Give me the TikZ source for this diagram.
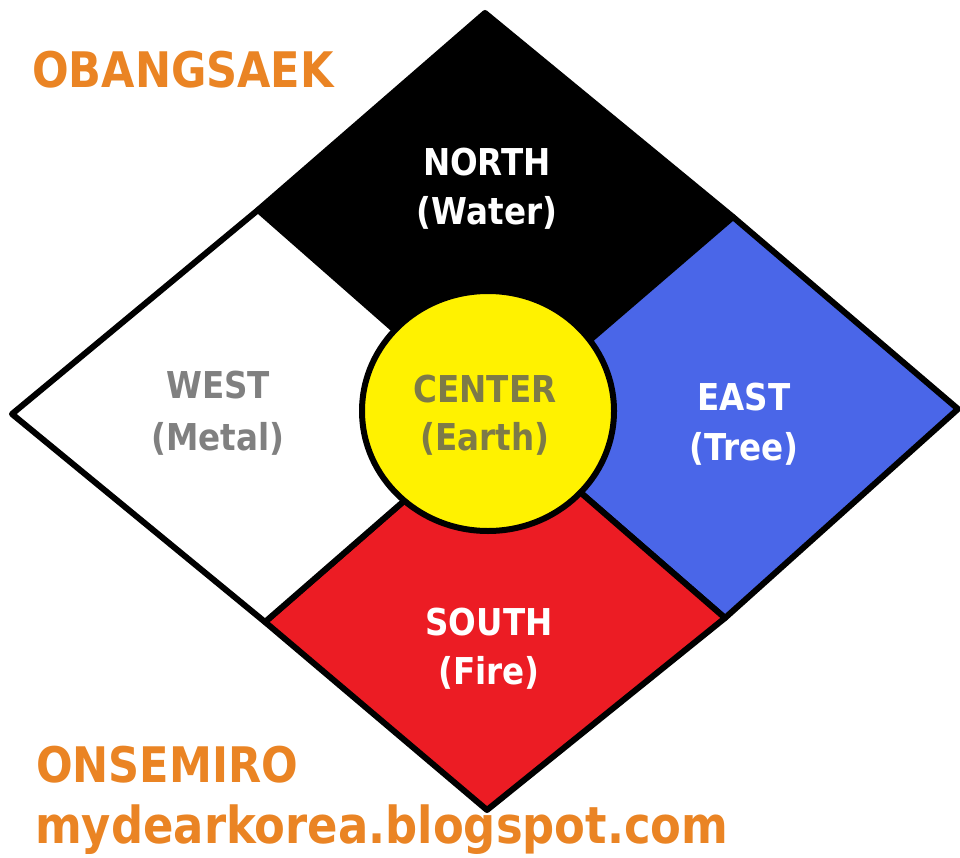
\documentclass[tikz,border=0pt]{standalone}
\usepackage{fontspec}
\setmainfont{DejaVu Sans}[FakeStretch=0.88]
\definecolor{obOrange}{RGB}{234,132,36}
\definecolor{obBlue}{RGB}{74,102,232}
\definecolor{obRed}{RGB}{236,28,36}
\definecolor{obYellow}{RGB}{255,242,0}
\definecolor{obGray}{RGB}{128,128,128}
\definecolor{obOlive}{RGB}{125,122,72}
\tikzset{
  region/.style={draw=black, line width=6pt, line join=round},
  lbl/.style={font=\fontsize{37}{44}\selectfont\bfseries, inner sep=0pt, anchor=base},
  title/.style={font=\fontsize{49}{58}\selectfont\bfseries, text=obOrange, inner sep=0pt, anchor=base west},
}
\begin{document}
\begin{tikzpicture}[x=1pt,y=-1pt]
\useasboundingbox[fill=white] (0,0) rectangle (960,858);
\coordinate (T) at (485,13);
\coordinate (R) at (958,409);
\coordinate (B) at (487,810);
\coordinate (L) at (12,414);
\coordinate (M1) at (258,210);
\coordinate (M2) at (733,217);
\coordinate (M3) at (725,618);
\coordinate (M4) at (265,622);
\coordinate (X) at (497,420);
% quadrants
\filldraw[region, fill=black] (T) -- (M2) -- (X) -- (M1) -- cycle;
\filldraw[region, fill=obBlue] (M2) -- (R) -- (M3) -- (X) -- cycle;
\filldraw[region, fill=obRed] (X) -- (M3) -- (B) -- (M4) -- cycle;
\filldraw[region, fill=white] (M1) -- (X) -- (M4) -- (L) -- cycle;
% center
\filldraw[region, fill=obYellow] (488,411) ellipse [x radius=126, y radius=120];
% labels
\node[lbl, text=white] (n1) at (487,176) {NORTH};
\node[lbl, text=white] (n2) at (487,225) {(Water)};
\node[lbl, text=obGray] (w1) at (218,398) {WEST};
\node[lbl, text=obGray] (w2) at (218,450) {(Metal)};
\node[lbl, text=obOlive] (c1) at (485,402) {CENTER};
\node[lbl, text=obOlive] (c2) at (485,450) {(Earth)};
\node[lbl, text=white] (e1) at (744,410) {EAST};
\node[lbl, text=white] (e2) at (744,460) {(Tree)};
\node[lbl, text=white] (s1) at (489,635) {SOUTH};
\node[lbl, text=white] (s2) at (489,684) {(Fire)};
% titles
\node[title] (t1) at (32,88) {OBANGSAEK};
\node[title] (t2) at (36,782) {ONSEMIRO};
\node[title, font=\fontsize{51}{60}\selectfont\bfseries] (t3) at (35,843) {mydearkorea.blogspot.com};
\end{tikzpicture}
\end{document}
